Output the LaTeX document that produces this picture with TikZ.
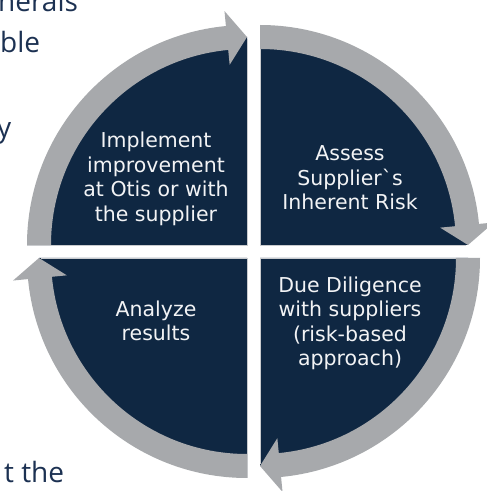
\documentclass[tikz,border=0pt]{standalone}
\usepackage{fontspec}
\setmainfont{Open Sans}
\newfontfamily\quadfont{DejaVu Sans}
\definecolor{navy}{HTML}{0F2742}
\definecolor{arrowgray}{HTML}{A7A9AC}
\definecolor{edgegray}{HTML}{C9CBCE}
\definecolor{textnavy}{HTML}{1C3152}
\definecolor{quadwhite}{HTML}{F2F3F5}
\newcommand\cyclequad[2]{%
  \begin{scope}[shift={#1}, rotate=#2]
    \fill[quad] (0,0) -- (180:208) arc[start angle=180,end angle=90,radius=208] -- cycle;
    \draw[edgeline] (180:220) -- (0,0) -- (90:206);
    \fill[band] (180:220) arc[start angle=180,end angle=95.5,radius=220]
      -- (95.5:235) -- (90:208) -- (95.5:181) -- (95.5:196)
      arc[start angle=95.5,end angle=180,radius=196] -- cycle;
  \end{scope}}
\begin{document}
\begin{tikzpicture}[x=1pt,y=1pt,
  quadtext/.style={text=quadwhite, align=center, font=\quadfont\fontsize{20.5}{24.5}\selectfont, inner sep=0pt},
  bgtext/.style={text=textnavy, font=\fontsize{28}{30}\selectfont, inner sep=0pt, anchor=base west},
  quad/.style={fill=navy},
  band/.style={fill=arrowgray},
  edgeline/.style={draw=edgegray, line width=0.8pt}
]
\useasboundingbox (0,0) rectangle (487,491);
\fill[white] (0,0) rectangle (487,491);
% background page text fragments
\node[bgtext] (frag1) at (-2,479) {nerals};
\node[bgtext] (frag2) at (0,438) {ble};
\node[bgtext] (frag3) at (-3,353) {y};
\node[bgtext] (frag4) at (4,9) {t the};
% quadrants with arrows
\cyclequad{(247,246)}{0}
\cyclequad{(260,246)}{-90}
\cyclequad{(260,233)}{-180}
\cyclequad{(247,233)}{90}
% texts
\node[quadtext] (implement) at (156,312) {Implement\\improvement\\at Otis or with\\the supplier};
\node[quadtext] (assess) at (350,313) {Assess\\Supplier\textasciigrave s\\Inherent Risk};
\node[quadtext] (analyze) at (156,170) {Analyze\\results};
\node[quadtext] (diligence) at (350,167.6) {Due Diligence\\with suppliers\\(risk-based\\approach)};
\end{tikzpicture}
\end{document}
